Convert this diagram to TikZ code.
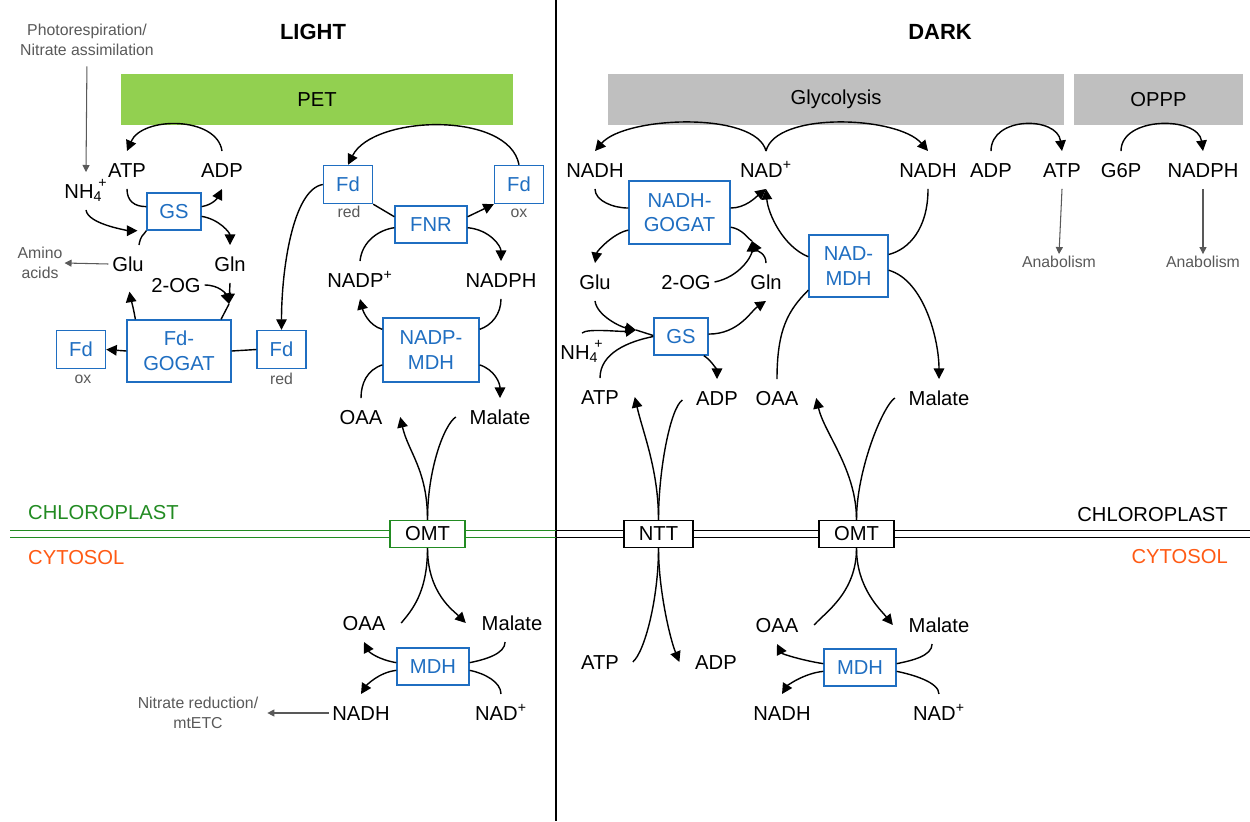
\documentclass[tikz,border=0pt]{standalone}
\usepackage{fontspec}
\setmainfont{Liberation Sans}
\usetikzlibrary{arrows.meta,calc}

\definecolor{petgreen}{RGB}{146,208,80}
\definecolor{barGrey}{RGB}{191,191,191}
\definecolor{enzblue}{RGB}{31,110,193}
\definecolor{notegrey}{RGB}{89,89,89}
\definecolor{cpgreen}{RGB}{34,139,34}
\definecolor{cytorange}{RGB}{255,90,20}

\newcommand{\lblfont}{\fontsize{11.5}{14}\selectfont}
\newcommand{\notefont}{\fontsize{9}{11}\selectfont}
\newcommand{\ammon}{NH\textsubscript{4}\kern-0.2em\raisebox{0.25ex}{\textsuperscript{+}}}
\newcommand{\nadplus}{NAD\textsuperscript{+}}

\tikzset{
  lbl/.style={font=\lblfont, inner xsep=2pt, inner ysep=6.5pt, text height=8.2pt, text depth=0pt},
  note/.style={font=\notefont, text=notegrey, align=center, inner sep=1pt},
  enz/.style={draw=enzblue, text=enzblue, line width=0.8pt, fill=white, font=\lblfont, align=center, inner sep=0pt},
  tport/.style={draw, fill=white, line width=0.8pt, font=\lblfont, inner sep=0pt, minimum height=0.54cm},
  bar/.style={font=\lblfont, inner sep=0pt, minimum height=1.03cm},
  title/.style={font=\fontsize{12.5}{15}\selectfont\bfseries},
  ln/.style={line width=0.8pt},
  arr/.style={line width=0.8pt, -{Triangle[length=6pt,width=6pt]}},
  garr/.style={draw=notegrey, line width=0.6pt, -{Triangle[length=4pt,width=4pt]}}
}

\begin{document}
\begin{tikzpicture}[x=0.02cm, y=-0.02cm]
  \useasboundingbox (0,0) rectangle (1250,821);

  % Titles and divider
  \node[title] (light) at (313,32) {LIGHT};
  \node[title] (dark) at (940,32) {DARK};
  \draw[line width=0.9pt] (556,0) -- (556,821);

  % Pathway bars
  \node[bar, fill=petgreen, minimum width=7.84cm] (pet) at (317,99.75) {PET};
  \node[bar, fill=barGrey, minimum width=9.12cm] (glyc) at (836,99.75) {Glycolysis};
  \node[bar, fill=barGrey, minimum width=3.38cm] (oppp) at (1158.5,99.75) {OPPP};

  % Envelope membrane
  \draw[cpgreen, line width=0.8pt] (10,530.5) -- (556,530.5) (10,537.5) -- (556,537.5);
  \draw[line width=0.8pt] (556,530.5) -- (1250,530.5) (556,537.5) -- (1250,537.5);
  \node[font=\lblfont, text=cpgreen, anchor=west] (cpleft) at (22,513) {CHLOROPLAST};
  \node[font=\lblfont, text=cytorange, anchor=west] (cyleft) at (22,558) {CYTOSOL};
  \node[font=\lblfont, anchor=east] (cpright) at (1234,515) {CHLOROPLAST};
  \node[font=\lblfont, text=cytorange, anchor=east] (cyright) at (1234,557) {CYTOSOL};

  % LIGHT: GS / Fd-GOGAT
  \node[note] (photo) at (87,40) {Photorespiration/\\Nitrate assimilation};
  \node[lbl] (lATP) at (127,170) {ATP};
  \node[lbl] (lADP) at (222,170) {ADP};
  \node[lbl] (lNH) at (86,191) {\ammon};
  \node[enz, minimum width=1.08cm, minimum height=0.74cm] (lGS) at (174,211.5) {GS};
  \node[lbl] (lGlu) at (128,264) {Glu};
  \node[lbl] (lGln) at (230,264) {Gln};
  \node[lbl] (l2OG) at (176,285) {2-OG};
  \node[note] (amino) at (40,263) {Amino\\acids};
  \node[enz, minimum width=2.08cm, minimum height=1.24cm] (lGOGAT) at (179,351) {Fd-\\GOGAT};
  \node[enz, minimum width=0.98cm, minimum height=0.76cm] (fdox2) at (81,349.5) {Fd};
  \node[note] (fdox2t) at (83,379) {ox};
  \node[enz, minimum width=0.98cm, minimum height=0.76cm] (fdred2) at (281.5,349.5) {Fd};
  \node[note] (fdred2t) at (281.5,379) {red};

  % LIGHT: FNR / NADP-MDH
  \node[enz, minimum width=0.98cm, minimum height=0.76cm] (fdred1) at (348,184.5) {Fd};
  \node[note] (fdred1t) at (349,212) {red};
  \node[enz, minimum width=0.98cm, minimum height=0.76cm] (fdox1) at (519,184.5) {Fd};
  \node[note] (fdox1t) at (519,213) {ox};
  \node[enz, minimum width=1.44cm, minimum height=0.74cm] (lFNR) at (431,224.5) {FNR};
  \node[lbl] (lNADPp) at (360,280) {NADP\textsuperscript{+}};
  \node[lbl] (lNADPH) at (501,280) {NADPH};
  \node[enz, minimum width=1.92cm, minimum height=1.28cm] (lNADPMDH) at (431,350) {NADP-\\MDH};
  \node[lbl] (lOAA) at (361,417) {OAA};
  \node[lbl] (lMal) at (500,417) {Malate};

  % LIGHT: transport and cytosol
  \node[tport, draw=cpgreen, minimum width=1.5cm] (lOMT) at (427.5,534) {OMT};
  \node[lbl] (lOAA2) at (364,623) {OAA};
  \node[lbl] (lMal2) at (512,623) {Malate};
  \node[enz, minimum width=1.44cm, minimum height=0.74cm] (lMDH) at (433,666.5) {MDH};
  \node[lbl] (lNADH) at (361,713) {NADH};
  \node[lbl] (lNADp) at (501,713) {\nadplus};
  \node[note] (nitrate) at (198,713) {Nitrate reduction/\\mtETC};

  % DARK: top row
  \node[lbl] (dNADH1) at (595,170) {NADH};
  \node[lbl] (dNADp) at (766,170) {\nadplus};
  \node[lbl] (dNADH2) at (928,170) {NADH};
  \node[lbl] (dADP1) at (991,170) {ADP};
  \node[lbl] (dATP1) at (1062,170) {ATP};
  \node[lbl] (dG6P) at (1121,170) {G6P};
  \node[lbl] (dNADPH) at (1203,170) {NADPH};
  \node[note] (anab1) at (1059,262) {Anabolism};
  \node[note] (anab2) at (1203,262) {Anabolism};

  % DARK: NADH-GOGAT / GS / NAD-MDH
  \node[enz, minimum width=2.02cm, minimum height=1.26cm] (dGOGAT) at (679.5,212.5) {NADH-\\GOGAT};
  \node[lbl] (dGlu) at (595,282) {Glu};
  \node[lbl] (d2OG) at (686,282) {2-OG};
  \node[lbl] (dGln) at (766,282) {Gln};
  \node[enz, minimum width=1.08cm, minimum height=0.74cm] (dGS) at (681,336.5) {GS};
  \node[lbl] (dNH) at (582,352) {\ammon};
  \node[enz, minimum width=1.58cm, minimum height=1.24cm] (dNADMDH) at (848.5,266) {NAD-\\MDH};
  \node[lbl] (dATP2) at (600,397) {ATP};
  \node[lbl] (dADP2) at (717,398) {ADP};
  \node[lbl] (dOAA) at (777,398) {OAA};
  \node[lbl] (dMal) at (939,398) {Malate};

  % DARK: transport and cytosol
  \node[tport, minimum width=1.38cm] (dNTT) at (658.5,534) {NTT};
  \node[tport, minimum width=1.5cm] (dOMT) at (856.5,534) {OMT};
  \node[lbl] (dATP3) at (600,662) {ATP};
  \node[lbl] (dADP3) at (716,662) {ADP};
  \node[lbl] (dOAA2) at (777,625) {OAA};
  \node[lbl] (dMal2) at (939,625) {Malate};
  \node[enz, minimum width=1.44cm, minimum height=0.74cm] (dMDH) at (860,667.5) {MDH};
  \node[lbl] (dNADH3) at (782,713) {NADH};
  \node[lbl] (dNADp3) at (939,713) {\nadplus};

  % LIGHT connectors: GS
  \draw[arr] (lADP.north) .. controls +(-5,-35) and +(15,-35) .. (lATP.north);
  \draw[ln] (lATP.south) .. controls +(0,12) and +(-12,0) .. (lGS.170);
  \draw[arr, shorten >=5pt] (lNH.south) .. controls +(2,15) and +(-15,0) .. (lGS.south west);
  \draw[ln] (lGlu.60) .. controls +(2,-10) and +(-4,6) .. (lGS.south west);
  \draw[arr] (lGS.10) .. controls +(12,-2) and +(-4,8) .. (lADP.south);
  \draw[arr] (lGS.-10) .. controls +(18,3) and +(0,-12) .. (lGln.north);
  \draw[garr] (lGlu.west) -- (amino.east);
  \draw[garr, shorten <=5pt] (photo.south) -- (lNH.north);

  % LIGHT connectors: Fd-GOGAT
  \coordinate (lj) at (229,304);
  \draw[arr, shorten >=5pt] (lGOGAT.144) .. controls +(-2,-12) and +(2,12) .. (lGlu.south);
  \draw[arr] (l2OG.east) .. controls +(15,0) and +(-3,-10) .. (lj);
  \draw[arr] (lGln.south) -- (lj);
  \draw[ln] (lj) -- (lGOGAT.37);
  \draw[arr] (lGOGAT.west) -- (fdox2.east);
  \draw[ln] (fdred2.west) -- (lGOGAT.east);
  \draw[arr] (fdred1.west) .. controls +(-30,5) and +(0,-60) .. (fdred2.north);

  % LIGHT connectors: FNR and NADP-MDH
  \draw[arr] (fdox1.north) .. controls +(-10,-54) and +(25,-50) .. (fdred1.north);
  \draw[ln] (fdred1.south east) -- (lFNR.168);
  \draw[arr] (lFNR.12) -- (fdox1.south west);
  \draw[ln] (lNADPp.north) .. controls +(2,-20) and +(-15,2) .. (lFNR.185);
  \draw[arr] (lFNR.-5) .. controls +(22,2) and +(0,-15) .. (lNADPH.north);
  \draw[ln] (lNADPH.south) .. controls +(0,15) and +(12,-4) .. (lNADPMDH.23);
  \draw[arr] (lNADPMDH.157) .. controls +(-14,-4) and +(3,12) .. (lNADPp.south);
  \draw[ln] (lNADPMDH.197) .. controls +(-15,5) and +(0,-15) .. (lOAA.north);
  \draw[arr] (lNADPMDH.-17) .. controls +(15,5) and +(0,-15) .. (lMal.north);

  % LIGHT connectors: OMT and MDH
  \draw[arr] (lOMT.north) .. controls +(0,-50) and +(8,35) .. ($(lOAA.east)+(14,0)$);
  \draw[ln] ($(lMal.west)+(-10,0)$) .. controls +(-12,8) and +(0,-50) .. (lOMT.north);
  \draw[ln] (lOMT.south) .. controls +(0,45) and +(10,-12) .. ($(lOAA2.east)+(12,0)$);
  \draw[arr] (lOMT.south) .. controls +(0,45) and +(-12,-12) .. ($(lMal2.west)+(-12,0)$);
  \draw[arr] (lMDH.174) .. controls +(-18,-3) and +(5,10) .. (lOAA2.south);
  \draw[arr] (lMDH.186) .. controls +(-18,2) and +(5,-8) .. (lNADH.north);
  \draw[ln] (lMal2.250) .. controls +(0,12) and +(15,-3) .. (lMDH.6);
  \draw[ln] (lNADp.north) .. controls +(0,-12) and +(15,3) .. (lMDH.-6);
  \draw[garr, shorten >=4pt] (lNADH.west) -- (nitrate.east);

  % DARK connectors: glycolysis and OPPP
  \draw[arr] (dNADp.north) .. controls +(-10,-40) and +(30,-35) .. (dNADH1.north);
  \draw[arr] (dNADp.north) .. controls +(10,-40) and +(-30,-35) .. (dNADH2.north);
  \draw[arr] (dADP1.north) .. controls +(0,-35) and +(-5,-35) .. (dATP1.north);
  \draw[arr] (dG6P.north) .. controls +(0,-35) and +(-5,-35) .. (dNADPH.north);
  \draw[garr] (dATP1.south) -- (anab1.north);
  \draw[garr] (dNADPH.south) -- (anab2.north);

  % DARK connectors: NADH-GOGAT
  \coordinate (dj1) at (752,241);
  \draw[ln] (dNADH1.south) .. controls +(0,12) and +(-15,0) .. (dGOGAT.175);
  \draw[arr] (dGOGAT.5) .. controls +(15,0) and +(-10,8) .. (dNADp.south);
  \draw[arr] (dGOGAT.199) .. controls +(-15,3) and +(2,-12) .. (dGlu.north);
  \draw[ln] (dGOGAT.-16) .. controls +(12,2) and +(-5,-3) .. (dj1);
  \draw[arr] (d2OG.east) .. controls +(25,-5) and +(0,15) .. (dj1);
  \draw[arr] (dGln.north) .. controls +(0,-10) and +(5,10) .. (dj1);

  % DARK connectors: GS
  \coordinate (dj2) at (636,330);
  \draw[arr] (dGlu.south) .. controls +(2,15) and +(-15,-3) .. (dj2);
  \draw[arr] (dNH.north) .. controls +(5,-5) and +(-15,2) .. (dj2);
  \draw[ln] (dj2) -- (dGS.178);
  \draw[ln] (dATP2.north) .. controls +(0,-25) and +(-25,5) .. (dGS.west);
  \draw[arr] (dGS.5) .. controls +(30,0) and +(-15,10) .. (dGln.south);
  \draw[arr] (dGS.-40) .. controls +(8,5) and +(0,-8) .. (dADP2.north);

  % DARK connectors: NAD-MDH
  \draw[arr] (dNADMDH.167) .. controls +(-25,-10) and +(2,25) .. (dNADp.south);
  \draw[ln] (dNADH2.south) .. controls +(0,40) and +(20,-5) .. (dNADMDH.16);
  \draw[arr] (dNADMDH.-6) .. controls +(35,10) and +(0,-40) .. (dMal.north);
  \draw[ln] (dOAA.north) .. controls +(0,-50) and +(-20,20) .. (dNADMDH.211);

  % DARK connectors: NTT and OMT
  \draw[arr] (dNTT.north) .. controls +(0,-50) and +(8,35) .. ($(dATP2.east)+(12,0)$);
  \draw[ln] ($(dADP2.west)+(-10,2)$) .. controls +(-12,8) and +(0,-50) .. (dNTT.north);
  \draw[arr] (dOMT.north) .. controls +(0,-50) and +(8,35) .. ($(dOAA.east)+(14,0)$);
  \draw[ln] ($(dMal.west)+(-10,0)$) .. controls +(-12,8) and +(0,-50) .. (dOMT.north);
  \draw[ln] (dNTT.south) .. controls +(0,50) and +(12,-10) .. ($(dATP3.east)+(10,0)$);
  \draw[arr] (dNTT.south) .. controls +(0,40) and +(-10,-25) .. ($(dADP3.west)+(-12,0)$);
  \draw[ln] (dOMT.south) .. controls +(0,45) and +(10,-12) .. ($(dOAA2.east)+(12,0)$);
  \draw[arr] (dOMT.south) .. controls +(0,40) and +(-12,-15) .. ($(dMal2.west)+(-12,0)$);

  % DARK connectors: cytosolic MDH
  \draw[arr] (dMDH.174) .. controls +(-20,-3) and +(5,10) .. (dOAA2.south);
  \draw[arr] (dMDH.186) .. controls +(-20,2) and +(5,-8) .. (dNADH3.north);
  \draw[ln] (dMal2.250) .. controls +(0,12) and +(15,-3) .. (dMDH.6);
  \draw[ln] (dNADp3.north) .. controls +(0,-12) and +(15,3) .. (dMDH.-6);
\end{tikzpicture}
\end{document}
